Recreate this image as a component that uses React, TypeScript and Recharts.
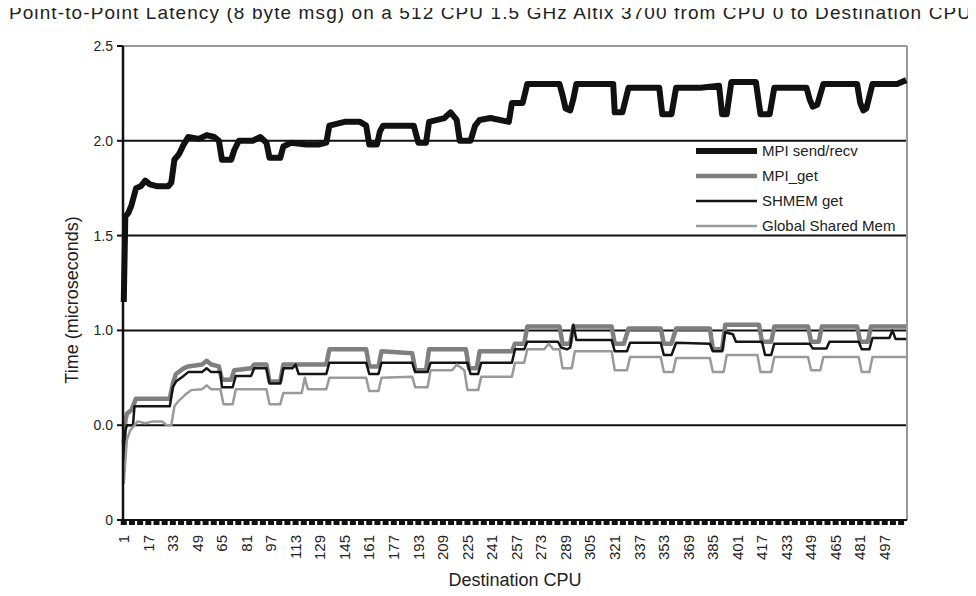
import React from "react";
import { LineChart, Line, XAxis, YAxis, CartesianGrid, ReferenceLine, Legend } from "recharts";

// destination CPU vs time (microseconds)
const mpiSendRecv: [number, number][] = [
  [1, 1.15], [2, 1.6], [4, 1.62], [6, 1.66], [9, 1.75], [12, 1.76], [15, 1.79], [18, 1.77],
  [23, 1.76], [30, 1.76], [32, 1.78], [34, 1.9], [37, 1.93], [40, 1.98], [43, 2.02], [50, 2.01],
  [55, 2.03], [60, 2.02], [63, 2.0], [65, 1.9], [71, 1.9], [73, 1.95], [76, 2.0], [85, 2.0],
  [90, 2.02], [94, 1.99], [96, 1.91], [103, 1.91], [105, 1.97], [110, 1.99], [120, 1.98],
  [128, 1.98], [133, 1.99], [135, 2.08], [145, 2.1], [155, 2.1], [159, 2.08], [161, 1.98],
  [166, 1.98], [168, 2.05], [170, 2.08], [187, 2.08], [190, 2.08], [193, 1.99], [198, 1.99],
  [200, 2.1], [210, 2.12], [214, 2.15], [218, 2.11], [220, 2.0], [227, 2.0], [230, 2.08],
  [233, 2.11], [240, 2.12], [252, 2.1], [254, 2.2], [261, 2.2], [264, 2.3], [285, 2.3],
  [287, 2.24], [289, 2.17], [292, 2.16], [294, 2.22], [296, 2.3], [320, 2.3], [321, 2.15],
  [326, 2.15], [330, 2.28], [350, 2.28], [352, 2.14], [358, 2.14], [361, 2.28], [377, 2.28],
  [389, 2.29], [391, 2.14], [394, 2.14], [397, 2.31], [413, 2.31], [416, 2.14], [422, 2.14],
  [425, 2.28], [446, 2.28], [448, 2.22], [450, 2.18], [453, 2.19], [457, 2.3], [479, 2.3],
  [481, 2.2], [483, 2.16], [485, 2.17], [489, 2.3], [505, 2.3], [511, 2.32],
];

const mpiGet: [number, number][] = [
  [1, 0.4], [2, 0.52], [3, 0.56], [6, 0.58], [8, 0.62], [9, 0.64], [31, 0.64], [33, 0.72],
  [35, 0.77], [40, 0.8], [43, 0.81], [52, 0.82], [55, 0.84], [58, 0.82], [63, 0.81], [65, 0.74],
  [71, 0.74], [73, 0.79], [84, 0.8], [86, 0.82], [94, 0.82], [96, 0.73], [103, 0.73], [105, 0.82],
  [133, 0.82], [135, 0.9], [159, 0.9], [161, 0.81], [167, 0.81], [169, 0.89], [189, 0.88],
  [191, 0.79], [198, 0.79], [200, 0.9], [224, 0.9], [226, 0.8], [231, 0.8], [233, 0.89],
  [254, 0.89], [256, 0.93], [262, 0.93], [264, 1.02], [285, 1.02], [287, 0.93], [292, 0.93],
  [294, 1.02], [319, 1.02], [321, 0.93], [327, 0.93], [330, 1.01], [351, 1.01], [353, 0.93],
  [358, 0.93], [361, 1.01], [383, 1.01], [385, 0.9], [391, 0.9], [393, 1.03], [415, 1.03],
  [417, 0.94], [423, 0.94], [425, 1.02], [447, 1.02], [449, 0.94], [454, 0.94], [456, 1.02],
  [479, 1.02], [481, 0.94], [486, 0.94], [488, 1.02], [511, 1.02],
];

const shmemGet: [number, number][] = [
  [1, 0.3], [2, 0.47], [3, 0.5], [7, 0.5], [8, 0.6], [31, 0.6], [33, 0.7], [35, 0.73],
  [40, 0.76], [43, 0.78], [52, 0.78], [55, 0.8], [58, 0.78], [64, 0.78], [65, 0.7], [72, 0.7],
  [74, 0.76], [84, 0.76], [86, 0.8], [94, 0.8], [96, 0.72], [103, 0.72], [105, 0.8], [111, 0.8],
  [113, 0.82], [115, 0.77], [133, 0.77], [135, 0.83], [159, 0.83], [161, 0.77], [167, 0.77],
  [169, 0.83], [189, 0.83], [191, 0.78], [199, 0.78], [201, 0.83], [225, 0.83], [227, 0.77],
  [232, 0.77], [234, 0.83], [254, 0.83], [256, 0.9], [262, 0.9], [264, 0.94], [284, 0.94],
  [286, 0.91], [290, 0.9], [292, 0.91], [294, 1.03], [296, 0.95], [319, 0.95], [321, 0.89],
  [329, 0.89], [331, 0.935], [351, 0.935], [353, 0.87], [358, 0.87], [361, 0.935], [383, 0.93],
  [385, 0.89], [391, 0.89], [393, 0.99], [398, 0.98], [400, 0.94], [417, 0.94], [419, 0.87],
  [423, 0.87], [425, 0.93], [448, 0.93], [450, 0.905], [459, 0.905], [461, 0.94], [480, 0.94],
  [482, 0.9], [487, 0.9], [489, 0.96], [500, 0.96], [502, 1.0], [504, 0.955], [511, 0.955],
];

const globalSharedMem: [number, number][] = [
  [1, 0.19], [3, 0.42], [5, 0.47], [8, 0.5], [10, 0.52], [15, 0.51], [20, 0.52], [26, 0.52],
  [29, 0.5], [32, 0.5], [34, 0.6], [37, 0.63], [41, 0.66], [45, 0.685], [52, 0.69], [55, 0.71],
  [58, 0.69], [64, 0.69], [66, 0.61], [72, 0.61], [74, 0.69], [94, 0.69], [96, 0.61], [103, 0.61],
  [105, 0.67], [117, 0.67], [119, 0.75], [121, 0.69], [133, 0.69], [135, 0.75], [159, 0.75],
  [161, 0.68], [167, 0.68], [169, 0.75], [189, 0.755], [191, 0.7], [199, 0.7], [201, 0.79],
  [215, 0.79], [218, 0.82], [223, 0.79], [225, 0.685], [232, 0.685], [234, 0.755], [254, 0.755],
  [256, 0.83], [262, 0.83], [264, 0.9], [275, 0.9], [278, 0.93], [281, 0.9], [285, 0.9],
  [287, 0.8], [293, 0.8], [295, 0.89], [319, 0.89], [321, 0.79], [329, 0.79], [331, 0.86],
  [351, 0.86], [353, 0.78], [359, 0.78], [361, 0.855], [383, 0.855], [385, 0.78], [392, 0.78],
  [394, 0.87], [414, 0.87], [416, 0.78], [423, 0.78], [425, 0.86], [447, 0.86], [449, 0.79],
  [455, 0.79], [457, 0.86], [480, 0.86], [482, 0.78], [487, 0.78], [489, 0.86], [511, 0.86],
];

const cpuLabels = [
  1, 17, 33, 49, 65, 81, 97, 113, 129, 145, 161, 177, 193, 209, 225, 241,
  257, 273, 289, 305, 321, 337, 353, 369, 385, 401, 417, 433, 449, 465, 481, 497,
];
const yTicks = [0, 0.5, 1, 1.5, 2, 2.5];
const yTickLabels = ["0", "0.0", "1.0", "1.5", "2.0", "2.5"];

const series = [
  { name: "MPI send/recv", data: mpiSendRecv, color: "#111111", width: 6 },
  { name: "MPI_get", data: mpiGet, color: "#7f7f7f", width: 4.5 },
  { name: "SHMEM get", data: shmemGet, color: "#151515", width: 2.5 },
  { name: "Global Shared Mem", data: globalSharedMem, color: "#9a9a9a", width: 2.5 },
];

// tick marks along the bottom: three per labelled step
const tickMarks: number[] = [];
cpuLabels.forEach((c) => {
  [c, c + 16 / 3, c + 32 / 3].forEach((t) => {
    if (t <= 511) tickMarks.push(t);
  });
});

const font = "'Liberation Sans', Arial, sans-serif";

function CpuTick(props: any) {
  const { x, y, payload } = props;
  const v = payload.value;
  const ty = y + 15;
  return (
    <g>
      <line x1={x} x2={x} y1={y} y2={y + 5} stroke="#111" strokeWidth={6} />
      {cpuLabels.includes(v) && (
        <text
          x={x}
          y={ty}
          transform={`rotate(-90, ${x}, ${ty})`}
          textAnchor="end"
          dy="0.35em"
          fontSize={15}
          fill="#222"
          fontFamily={font}
        >
          {v}
        </text>
      )}
    </g>
  );
}

function LegendBox() {
  return (
    <div style={{ fontFamily: font, fontSize: 15, color: "#222" }}>
      {series.map((s) => (
        <div key={s.name} style={{ display: "flex", alignItems: "center", height: 25 }}>
          <svg width={66} height={10}>
            <line x1={0} x2={61} y1={5} y2={5} stroke={s.color} strokeWidth={s.width} />
          </svg>
          <span>{s.name}</span>
        </div>
      ))}
    </div>
  );
}

export default function App() {
  return (
    <div style={{ position: "relative", width: 976, height: 596, margin: -8, background: "#fff", fontFamily: font }}>
      <LineChart width={976} height={596} margin={{ top: 46, right: 69, left: 63, bottom: 26 }}>
        <CartesianGrid vertical={false} stroke="#111" strokeWidth={2} />
        <XAxis
          type="number"
          dataKey="cpu"
          domain={[0.5, 511.5]}
          ticks={tickMarks}
          interval={0}
          height={50}
          tickSize={0}
          tickMargin={0}
          tickLine={false}
          tick={<CpuTick />}
          axisLine={{ stroke: "#111", strokeWidth: 2 }}
          allowDuplicatedCategory={false}
        />
        <YAxis
          type="number"
          domain={[0, 2.5]}
          ticks={yTicks}
          width={60}
          tickSize={6}
          tickMargin={4}
          tickLine={{ stroke: "#111", strokeWidth: 2 }}
          axisLine={{ stroke: "#111", strokeWidth: 2.5 }}
          tick={{ fontSize: 14, fill: "#222", fontFamily: font }}
          tickFormatter={(v: number) => yTickLabels[yTicks.indexOf(v)]}
        />
        <ReferenceLine y={2.5} stroke="#999" strokeWidth={2} />
        <ReferenceLine x={511.5} stroke="#999" strokeWidth={2} />
        {series.map((s) => (
          <Line
            key={s.name}
            name={s.name}
            data={s.data.map(([cpu, t]) => ({ cpu, t }))}
            dataKey="t"
            type="linear"
            stroke={s.color}
            strokeWidth={s.width}
            strokeLinejoin="round"
            dot={false}
            activeDot={false}
            isAnimationActive={false}
          />
        ))}
        <Legend
          layout="vertical"
          align="center"
          verticalAlign="middle"
          content={() => <LegendBox />}
          wrapperStyle={{ left: 696, top: 138, width: 215 }}
        />
      </LineChart>
      <div
        style={{
          position: "absolute",
          left: 0,
          top: 3,
          width: 981,
          lineHeight: "20px",
          textAlign: "center",
          fontSize: 19,
          letterSpacing: 1.1,
          color: "#222",
          whiteSpace: "nowrap",
          zIndex: 2,
        }}
      >
        Point-to-Point Latency (8 byte msg) on a 512 CPU 1.5 GHz Altix 3700 from CPU 0 to Destination CPU
      </div>
      <div
        style={{
          position: "absolute",
          left: 72,
          top: 300,
          transform: "translate(-50%, -50%) rotate(-90deg)",
          fontSize: 18,
          color: "#222",
          whiteSpace: "nowrap",
          zIndex: 2,
        }}
      >
        Time (microseconds)
      </div>
      <div
        style={{
          position: "absolute",
          left: 515,
          top: 580,
          transform: "translate(-50%, -50%)",
          fontSize: 18,
          color: "#222",
          whiteSpace: "nowrap",
          zIndex: 2,
        }}
      >
        Destination CPU
      </div>
    </div>
  );
}
